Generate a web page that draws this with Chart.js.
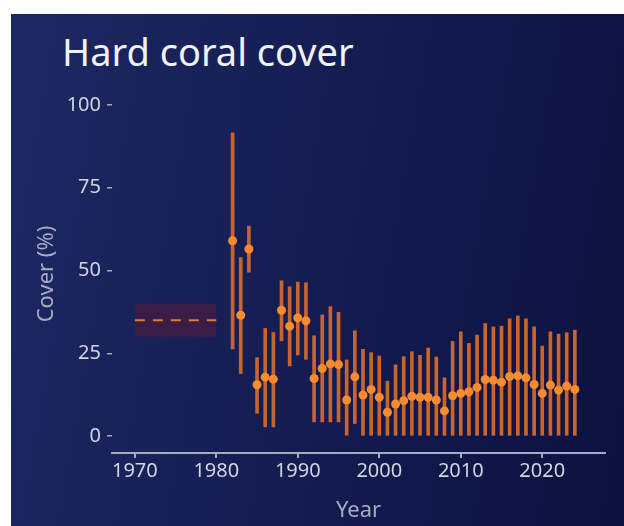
<!DOCTYPE html>
<html>
<head>
<meta charset="utf-8">
<script src="https://cdn.jsdelivr.net/npm/chart.js@4/dist/chart.umd.min.js"></script>
<style>
  body { margin: 0; background: #fff; width: 624px; height: 526px; overflow: hidden; position: relative; }
  #panel {
    position: absolute; left: 11px; top: 14px; right: 0; bottom: 0;
    background: linear-gradient(100deg, #1d2762 0%, #161f55 40%, #10174a 70%, #0c1240 100%);
  }
  #title {
    position: absolute; left: 62px; top: 32px; margin: 0;
    font: 38px/1 "Noto Sans", sans-serif; font-weight: normal; color: #f2f2f6;
  }
  #wrap { position: absolute; left: 0; top: 0; width: 624px; height: 526px; }
</style>
</head>
<body>
<div id="panel"></div>
<h1 id="title">Hard coral cover</h1>
<div id="wrap"><canvas id="chart"></canvas></div>
<script>
const years = [1982, 1983, 1984, 1985, 1986, 1987, 1988, 1989, 1990, 1991, 1992, 1993, 1994, 1995, 1996, 1997, 1998, 1999, 2000, 2001, 2002,
  2003, 2004, 2005, 2006, 2007, 2008, 2009, 2010, 2011, 2012, 2013, 2014, 2015, 2016, 2017, 2018, 2019, 2020, 2021, 2022, 2023, 2024]
const cover = [59, 36.5, 56.5, 15.5, 17.8, 17.2, 38, 33.2, 35.7, 34.8, 17.4, 20.4, 21.8, 21.6, 10.9, 17.9, 12.4, 14.1, 11.7, 7.2, 9.7,
  10.7, 12, 11.7, 11.7, 10.9, 7.6, 12.2, 12.9, 13.4, 14.7, 17.1, 16.9, 16.3, 18, 18.2, 17.6, 15.6, 12.9, 15.4, 13.9, 15.1, 14.1]
const lower = [26.3, 18.9, 49.5, 6.9, 2.8, 2.8, 28.8, 21.2, 24.5, 23.2, 4.3, 4.3, 4.3, 4.3, 0.3, 3.8, 0, 0, 0, 0, 0,
  0, 0, 0, 0, 0, 0, 0, 0, 0, 0, 0, 0, 0, 0, 0, 0, 0, 0, 0, 0, 0, 0]
const upper = [91.6, 53.9, 63.4, 23.7, 32.5, 31.3, 46.9, 45.1, 46.5, 46.3, 30.3, 36.6, 39.1, 37.4, 23, 31.8, 26.2, 25.2, 24.2, 16.6, 21.5,
  24, 25.5, 24.4, 26.6, 23.9, 17.6, 28.6, 31.5, 28, 30.5, 34, 33, 33.2, 35.4, 36.3, 35.4, 33, 27.2, 31.5, 30.8, 31.2, 32]

// pre-1980 reference band
const refYears = [1970, 1980]
const refLow = 30
const refMid = 35
const refHigh = 40

const xTicks = [1970, 1980, 1990, 2000, 2010, 2020]
const yTicks = [0, 25, 50, 75, 100]

const tickColor = '#d2d4de'
const lineColor = '#a6aac2'
const titleColor = '#a9adc0'
const font = '"Noto Sans", sans-serif'

const ctx = document.getElementById('chart').getContext('2d')
new Chart(ctx, {
  type: 'bar',
  data: {
    datasets: [
      {
        type: 'scatter',
        data: years.map((y, i) => ({ x: y, y: cover[i] })),
        backgroundColor: '#f68b2f',
        borderWidth: 0,
        pointRadius: 4.5,
        order: 0,
      },
      {
        type: 'bar',
        data: years.map((y, i) => ({ x: y, y: [lower[i], upper[i]] })),
        backgroundColor: '#c8642c',
        barThickness: 3,
        borderWidth: 0,
        grouped: false,
        order: 1,
      },
      {
        type: 'line',
        data: refYears.map((y) => ({ x: y, y: refMid })),
        borderColor: '#e27a2c',
        borderWidth: 2,
        borderDash: [10, 8],
        pointRadius: 0,
        order: 2,
      },
      {
        type: 'line',
        data: refYears.map((y) => ({ x: y, y: refLow })),
        borderWidth: 0,
        pointRadius: 0,
        order: 3,
      },
      {
        type: 'line',
        data: refYears.map((y) => ({ x: y, y: refHigh })),
        borderWidth: 0,
        pointRadius: 0,
        fill: '-1',
        backgroundColor: '#3a1d47',
        order: 3,
      },
    ],
  },
  options: {
    responsive: true,
    maintainAspectRatio: false,
    animation: false,
    layout: { padding: { top: 95, right: 19, left: 0, bottom: 0 } },
    plugins: {
      legend: { display: false },
      tooltip: { enabled: false },
    },
    scales: {
      x: {
        type: 'linear',
        offset: false,
        min: 1967.2,
        max: 2027.7,
        afterBuildTicks: (scale) => { scale.ticks = xTicks.map((v) => ({ value: v })) },
        afterFit: (scale) => { scale.height = 73 },
        grid: { offset: false, drawOnChartArea: false, drawTicks: true, tickLength: 5, color: lineColor, lineWidth: 2 },
        border: { display: true, color: lineColor, width: 2 },
        ticks: { color: tickColor, font: { family: font, size: 20 }, padding: 1, maxRotation: 0, callback: (v) => String(v) },
        title: { display: true, text: 'Year', color: titleColor, font: { family: font, size: 22 }, padding: { top: 0, bottom: 2 } },
      },
      y: {
        min: -5.1,
        max: 103,
        afterBuildTicks: (scale) => { scale.ticks = yTicks.map((v) => ({ value: v })) },
        afterFit: (scale) => { scale.width = 112 },
        grid: { drawOnChartArea: false, drawTicks: true, tickLength: 5, color: lineColor, lineWidth: 1.5 },
        border: { display: false },
        ticks: { color: tickColor, font: { family: font, size: 20 }, padding: 6 },
        title: { display: true, text: 'Cover (%)', color: titleColor, font: { family: font, size: 22 }, padding: { top: 34, bottom: 0 } },
      },
    },
  },
})
</script>
</body>
</html>
